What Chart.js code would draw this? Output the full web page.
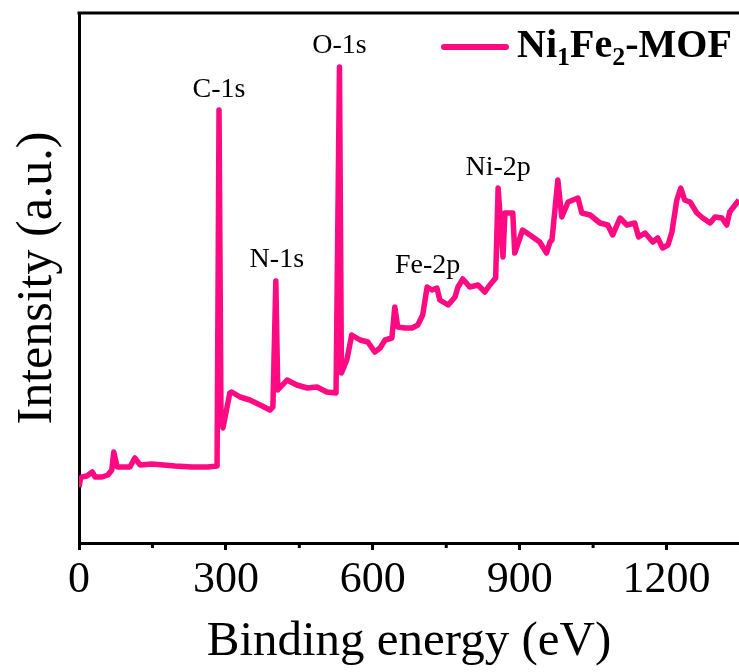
<!DOCTYPE html>
<html>
<head>
<meta charset="utf-8">
<script src="https://cdn.jsdelivr.net/npm/chart.js@4.4.1/dist/chart.umd.min.js"></script>
<style>
  body { margin: 0; background: #fff; }
  #wrap { width: 739px; height: 672px; }
</style>
</head>
<body>
<div id="wrap"><canvas id="xps" width="739" height="672"></canvas></div>
<script>
// binding energy (eV) and intensity (a.u.)
const energy = [0, 3, 6, 16, 27, 33, 47, 59, 67, 71, 78, 88, 104, 114, 125, 149, 196, 231, 263, 282,
  286, 290, 294, 308, 312, 329, 349, 370, 390, 396, 402, 406, 425, 445, 466, 486, 506, 525, 532, 536,
  547, 557, 574, 590, 604, 615, 625, 639, 645, 651, 666, 680, 692, 702, 711, 721, 731, 737, 754, 768,
  774, 784, 798, 815, 829, 839, 851, 856, 866, 870, 886, 890, 906, 921, 941, 955, 962, 966, 978, 986,
  999, 1019, 1027, 1044, 1064, 1080, 1090, 1105, 1119, 1135, 1143, 1156, 1172, 1182, 1192, 1203, 1211, 1221, 1229, 1237,
  1248, 1262, 1274, 1289, 1299, 1313, 1323, 1329, 1340, 1348];
const intensity = [56, 64, 66, 67, 71, 66, 66, 68, 73, 91, 76, 76, 76, 85, 78, 79, 77, 76, 76, 77,
  433, 130, 115, 150, 151, 146, 143, 138, 133, 136, 262, 153, 163, 158, 155, 156, 151, 150, 476, 170,
  183, 208, 203, 201, 191, 195, 203, 205, 236, 216, 215, 215, 218, 228, 256, 253, 255, 243, 238, 246,
  256, 264, 256, 258, 251, 258, 265, 355, 286, 330, 330, 290, 313, 308, 301, 290, 301, 303, 363, 326,
  341, 345, 330, 328, 320, 318, 308, 325, 318, 320, 306, 310, 301, 305, 295, 298, 311, 343, 355, 343,
  341, 330, 325, 320, 326, 325, 318, 331, 338, 343];

const xTicks = [0, 300, 600, 900, 1200];
const xMinor = [150, 450, 750, 1050];

// peak labels, anchored in data units
const peakNames = ['C-1s', 'N-1s', 'O-1s', 'Fe-2p', 'Ni-2p'];
const peakX = [286, 404, 532, 712, 856];
const peakY = [446, 276, 490, 270, 368];

const serif = "'Times New Roman', 'Liberation Serif', serif";
const pink = '#ff0a82';

const extras = {
  id: 'extras',
  afterDraw(chart) {
    const ctx = chart.ctx, a = chart.chartArea;
    const xs = chart.scales.x, ys = chart.scales.y;
    ctx.save();
    // top frame line
    ctx.strokeStyle = '#000';
    ctx.lineWidth = 3;
    ctx.beginPath();
    ctx.moveTo(a.left - 1.5, a.top);
    ctx.lineTo(a.right, a.top);
    ctx.stroke();
    // minor ticks
    xMinor.forEach(v => {
      const px = xs.getPixelForValue(v);
      ctx.beginPath();
      ctx.moveTo(px, a.bottom);
      ctx.lineTo(px, a.bottom + 5);
      ctx.stroke();
    });
    // peak labels
    ctx.fillStyle = '#000';
    ctx.font = '28px ' + serif;
    ctx.textAlign = 'center';
    ctx.textBaseline = 'alphabetic';
    peakNames.forEach((n, i) => {
      ctx.fillText(n, xs.getPixelForValue(peakX[i]), ys.getPixelForValue(peakY[i]));
    });
    // legend
    ctx.strokeStyle = pink;
    ctx.lineWidth = 6;
    ctx.lineCap = 'round';
    ctx.beginPath();
    ctx.moveTo(444, 47);
    ctx.lineTo(506, 47);
    ctx.stroke();
    const parts = [['Ni', 0], ['1', 1], ['Fe', 0], ['2', 1], ['-MOF', 0]];
    let x = 517;
    ctx.textAlign = 'left';
    parts.forEach(([t, sub]) => {
      ctx.font = (sub ? 'bold 26px ' : 'bold 40px ') + serif;
      ctx.fillText(t, x, sub ? 65 : 57);
      x += ctx.measureText(t).width;
    });
    ctx.restore();
  }
};

new Chart(document.getElementById('xps'), {
  type: 'line',
  data: {
    datasets: [{
      label: 'Ni1Fe2-MOF',
      data: energy.map((e, i) => ({ x: e, y: intensity[i] })),
      borderColor: pink,
      borderWidth: 5.5,
      pointRadius: 0,
      tension: 0,
      fill: false,
      borderJoinStyle: 'round'
    }]
  },
  options: {
    responsive: false,
    animation: false,
    devicePixelRatio: 1,
    layout: { padding: { top: 13, right: 0, left: 0, bottom: 0 } },
    plugins: { legend: { display: false }, tooltip: { enabled: false } },
    scales: {
      x: {
        type: 'linear',
        min: 0,
        max: 1348,
        afterBuildTicks: s => { s.ticks = xTicks.map(v => ({ value: v })); },
        afterFit: s => { s.height = 129; },
        grid: { drawOnChartArea: false, tickLength: 7, tickWidth: 3, tickColor: '#000' },
        border: { color: '#000', width: 3 },
        ticks: { color: '#000', font: { family: serif, size: 44 }, padding: 4, maxRotation: 0, callback: v => String(v) },
        title: { display: true, text: 'Binding energy (eV)', color: '#000', font: { family: serif, size: 49 }, padding: { top: 0, bottom: 0 } }
      },
      y: {
        min: 0,
        max: 530,
        afterFit: s => { s.width = 79; },
        grid: { display: false, drawTicks: false },
        border: { color: '#000', width: 3 },
        ticks: { display: false },
        title: { display: true, text: 'Intensity (a.u.)', color: '#000', font: { family: serif, size: 50 }, padding: { top: 8, bottom: 0 } }
      }
    }
  },
  plugins: [extras]
});
</script>
</body>
</html>
